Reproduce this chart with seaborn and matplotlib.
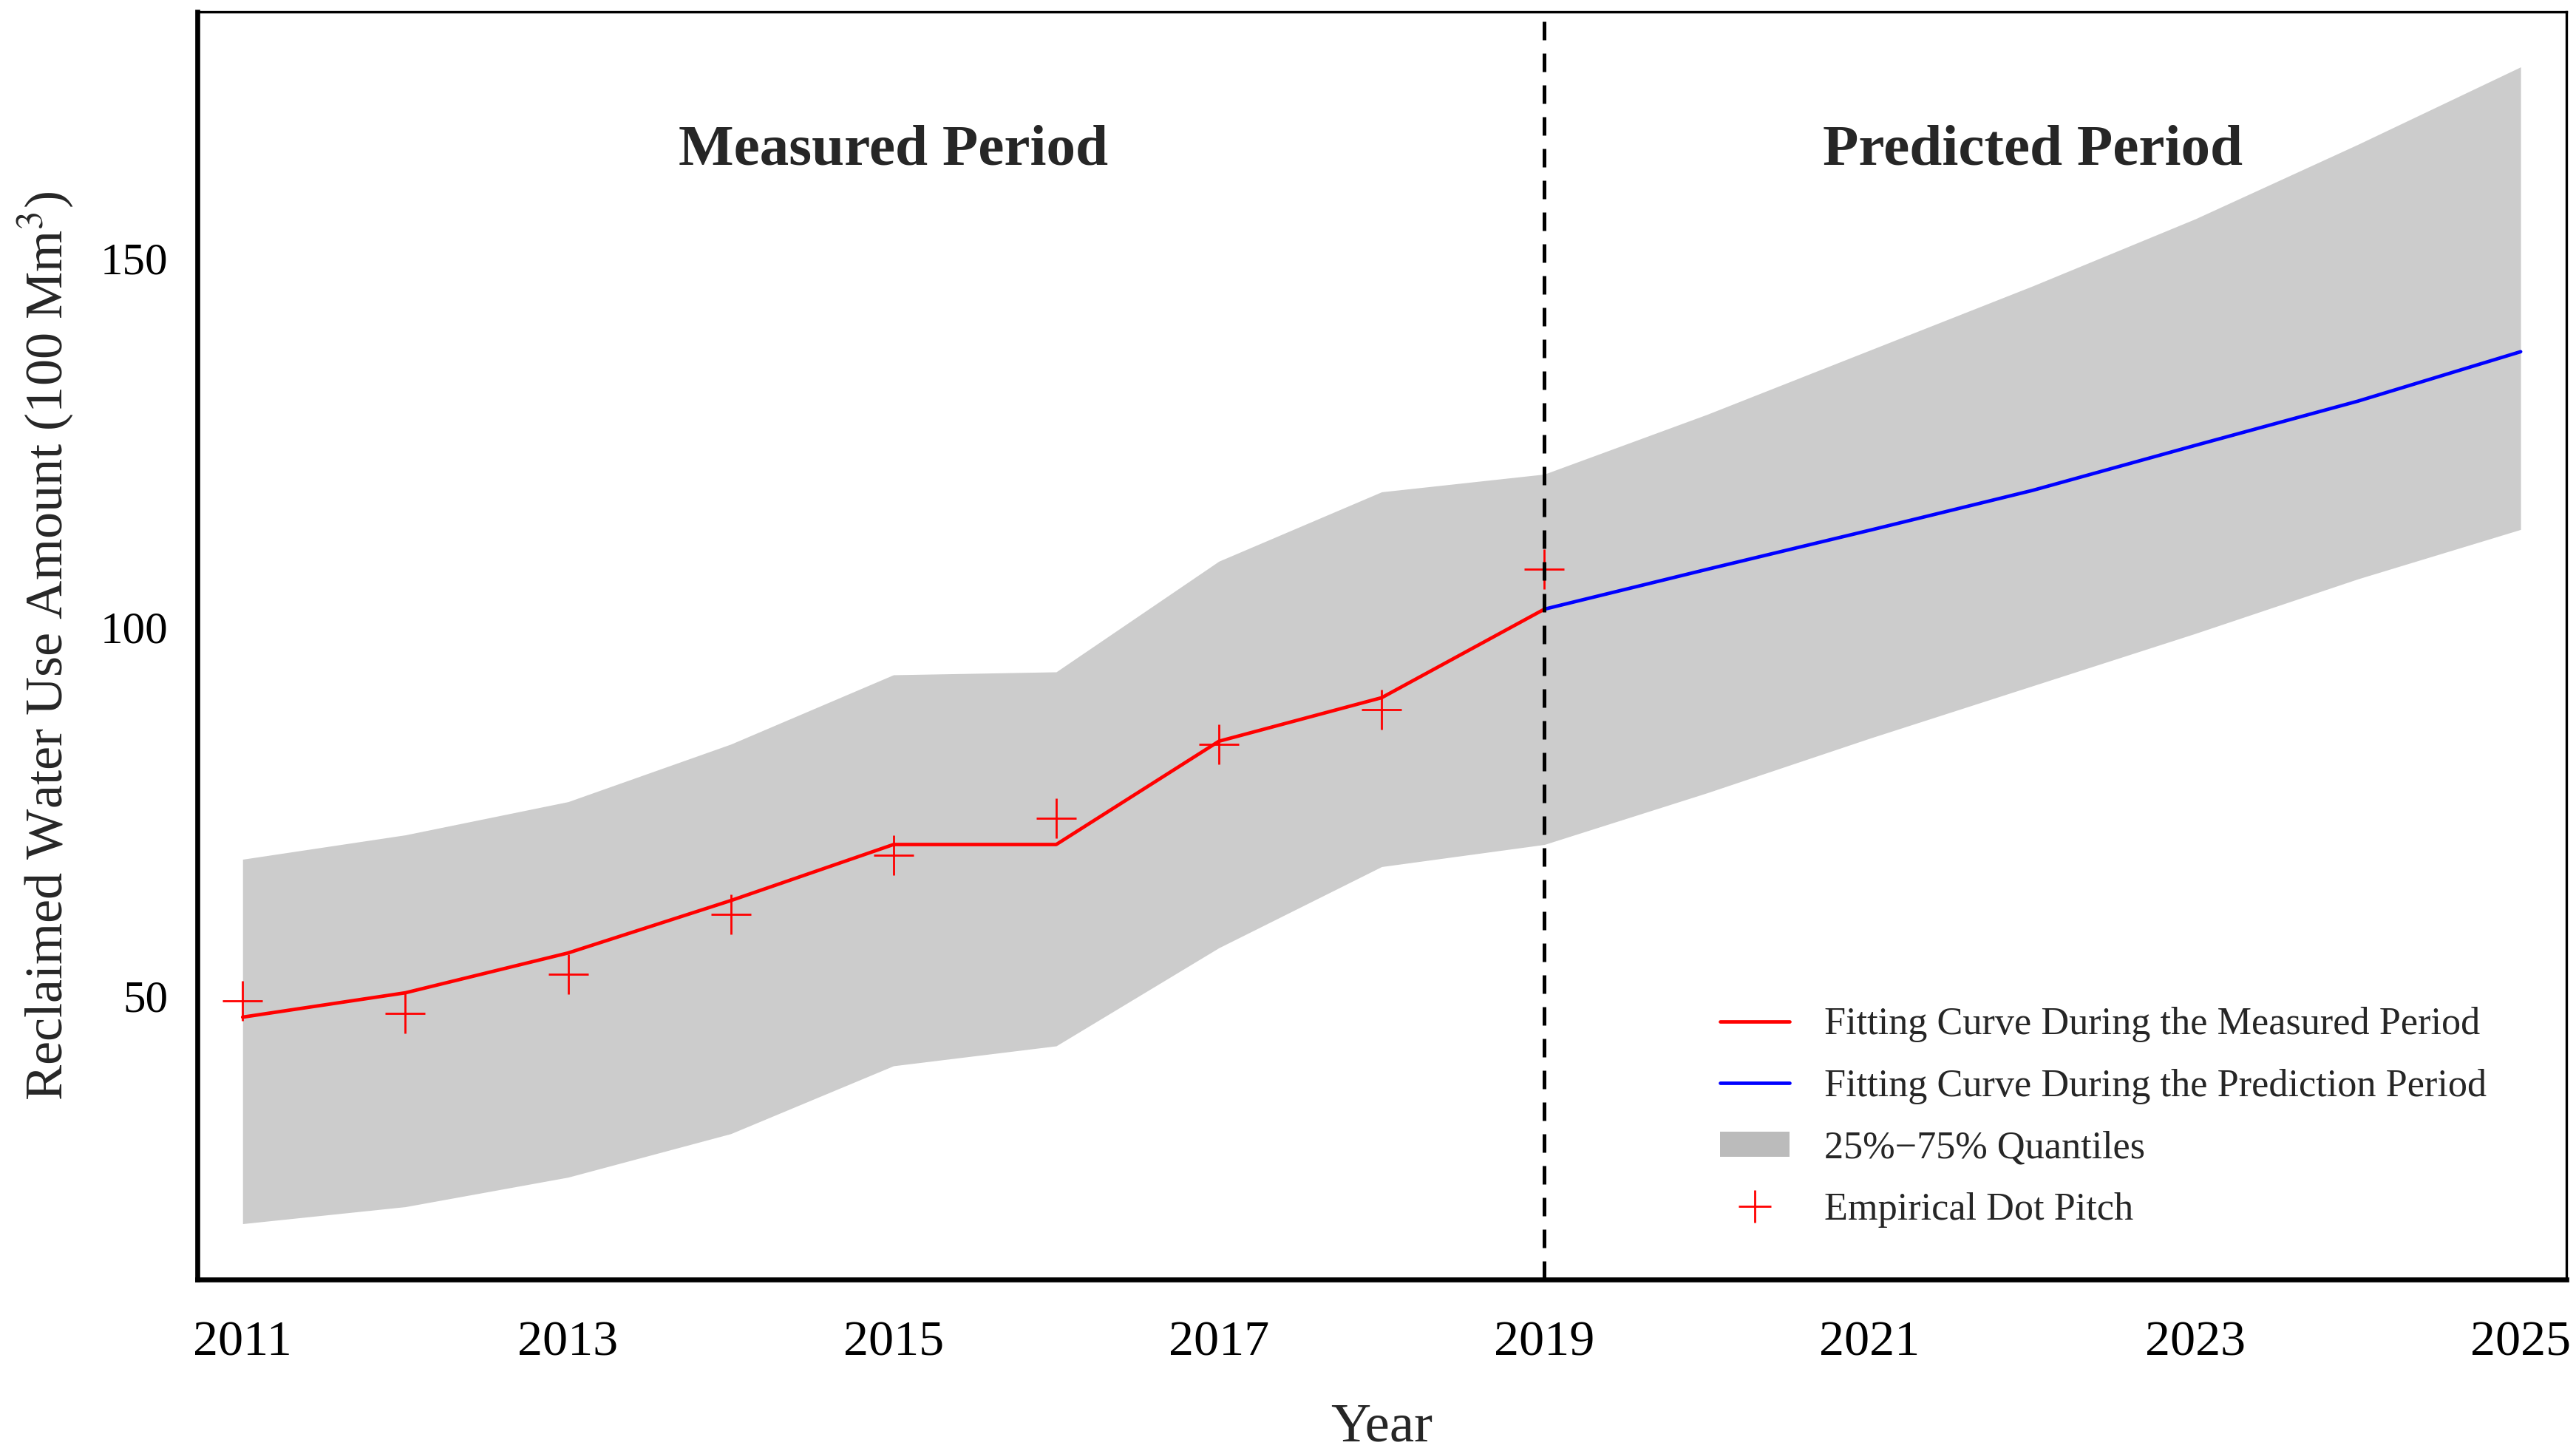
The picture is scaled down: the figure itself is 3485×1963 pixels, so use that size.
import matplotlib
matplotlib.use("Agg")
import matplotlib.pyplot as plt
import seaborn as sns
import pandas as pd
from matplotlib.lines import Line2D
from matplotlib.patches import Patch

# ---- data ----
years_measured = [2011, 2012, 2013, 2014, 2015, 2016, 2017, 2018, 2019]
fit_measured = [47.1, 50.4, 55.8, 62.9, 70.5, 70.5, 84.5, 90.4, 102.4]
empirical = [49.3, 47.6, 52.9, 61.0, 69.0, 74.1, 84.1, 88.8, 107.8]

years_pred = [2019, 2020, 2021, 2022, 2023, 2024, 2025]
fit_pred = [102.4, 107.8, 113.1, 118.5, 124.6, 130.6, 137.3]

years_all = [2011, 2012, 2013, 2014, 2015, 2016, 2017, 2018, 2019,
             2020, 2021, 2022, 2023, 2024, 2025]
q25 = [19.1, 21.4, 25.4, 31.3, 40.5, 43.2, 56.5, 67.5, 70.5,
       77.5, 84.9, 92.0, 99.1, 106.5, 113.2]
q75 = [68.5, 71.8, 76.3, 84.1, 93.5, 93.9, 108.9, 118.3, 120.7,
       128.8, 137.5, 146.2, 155.3, 165.4, 175.9]

xticks = [2011, 2013, 2015, 2017, 2019, 2021, 2023, 2025]
yticks = [50, 100, 150]

legend_labels = ["Fitting Curve During the Measured Period",
                 "Fitting Curve During the Prediction Period",
                 "25%\u221275% Quantiles",
                 "Empirical Dot Pitch"]

# ---- style ----
sns.set_style("white")
plt.rcParams['font.family'] = ['Liberation Serif', 'DejaVu Serif']
plt.rcParams['mathtext.fontset'] = 'stix'

fig = plt.figure(figsize=(17.425, 9.815), dpi=200)
ax = fig.add_axes([0.0765, 0.118, 0.9197, 0.874])

df_m = pd.DataFrame({"Year": years_measured, "Fit": fit_measured, "Emp": empirical})
df_p = pd.DataFrame({"Year": years_pred, "Fit": fit_pred})

ax.fill_between(years_all, q25, q75, color="#cccccc", linewidth=0, zorder=1)
sns.lineplot(data=df_m, x="Year", y="Fit", color="red", linewidth=1.7, ax=ax, zorder=3)
sns.lineplot(data=df_p, x="Year", y="Fit", color="blue", linewidth=1.7, ax=ax, zorder=3)
sns.scatterplot(data=df_m, x="Year", y="Emp", marker="+", color="red", s=380,
                linewidth=1.0, ax=ax, zorder=4)
ax.axvline(2019, color="black", linestyle=(0, (5, 3.6)), linewidth=1.8, zorder=5)

ax.set_xlim(2010.72, 2025.28)
ax.set_ylim(11.5, 183.4)
ax.set_xticks(xticks)
ax.set_yticks(yticks)
ax.tick_params(axis='both', direction='in', length=6, width=1.2,
               color='#222222', labelcolor='black')
ax.tick_params(axis='x', labelsize=24.5, pad=20)
ax.tick_params(axis='y', labelsize=22, pad=14)
ax.set_xlabel("Year", fontsize=27, labelpad=18)
ax.set_ylabel("Reclaimed Water Use Amount (100 Mm$^3$)", fontsize=26, labelpad=12)

for side in ['left', 'bottom']:
    ax.spines[side].set_linewidth(2.4)
for side in ['top', 'right']:
    ax.spines[side].set_linewidth(1.2)
for s in ax.spines.values():
    s.set_color('black')

ax.text(2015, 164.5, "Measured Period", fontsize=28.5, fontweight='bold',
        ha='center', va='center')
ax.text(2022, 164.5, "Predicted Period", fontsize=28.5, fontweight='bold',
        ha='center', va='center')

handles = [Line2D([], [], color='red', linewidth=1.7),
           Line2D([], [], color='blue', linewidth=1.7),
           Patch(facecolor='#bbbbbb', edgecolor='none'),
           Line2D([], [], color='red', marker='+', linestyle='none',
                  markersize=16, markeredgewidth=1.0)]
ax.legend(handles, legend_labels, loc='lower right', bbox_to_anchor=(0.9885, 0.0),
          frameon=False, fontsize=18.8, handlelength=1.8, handleheight=0.6,
          labelspacing=0.68, borderaxespad=0.95, handletextpad=0.9)

fig.savefig("out.png", dpi=200)
